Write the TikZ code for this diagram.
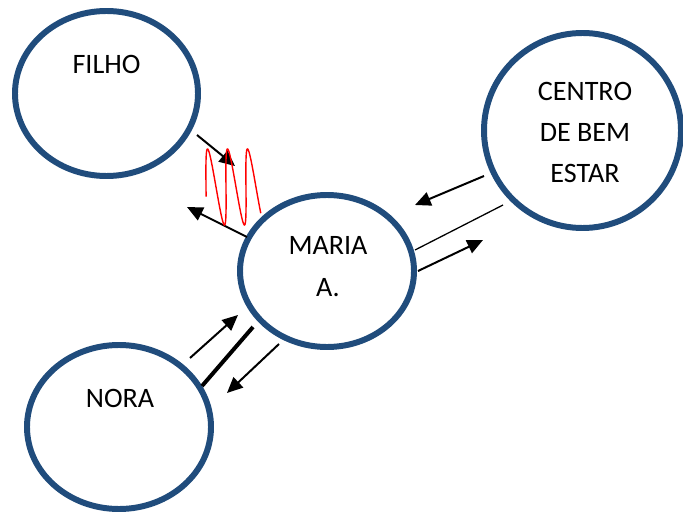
\documentclass[tikz,border=0pt]{standalone}
\usepackage{fontspec}
\setmainfont{Carlito}
\usetikzlibrary{shapes.geometric}
\usetikzlibrary{arrows.meta}
\definecolor{ringblue}{RGB}{32,76,124}

\begin{document}
\begin{tikzpicture}[x=0.03cm,y=-0.03cm,
  person/.style={ellipse,draw=ringblue,line width=5.1pt,inner sep=0pt},
  placetxt/.style={font=\fontsize{24}{35}\selectfont,align=center,anchor=base},
  link/.style={line width=1.7pt,-{Triangle[length=0.47cm,width=0.42cm]}}]
\useasboundingbox (0,0) rectangle (683,512);

% the four people/places
\node[person,minimum width=5.49cm,minimum height=4.95cm] (filho) at (106.5,93.5) {};
\node[person,minimum width=5.91cm,minimum height=5.85cm] (centro) at (582.5,130.5) {};
\node[person,minimum width=5.22cm,minimum height=4.56cm] (maria) at (327,271) {};
\node[person,minimum width=5.52cm,minimum height=4.92cm] (nora) at (119,427) {};

% labels (base = last line)
\node[placetxt] (filhotxt) at (106.5,74) {FILHO};
\node[placetxt] (centrotxt) at (585,183) {CENTRO\\DE BEM\\ESTAR};
\node[placetxt] (mariatxt) at (328,296) {MARIA\\A.};
\node[placetxt] (noratxt) at (120,407) {NORA};

% arrow ends
\coordinate (fm1) at (197,135); \coordinate (fm2) at (235,166);
\coordinate (mf1) at (247,237); \coordinate (mf2) at (187,207);
\coordinate (nm1) at (190,358); \coordinate (nm2) at (238,315);
\coordinate (nb1) at (202,386); \coordinate (nb2) at (253,327);
\coordinate (mn1) at (279,344); \coordinate (mn2) at (227,393);
\coordinate (cm1) at (484,176); \coordinate (cm2) at (415,205);
\coordinate (cb1) at (503,205); \coordinate (cb2) at (415,250);
\coordinate (mc1) at (418,271); \coordinate (mc2) at (483,240);

\draw[link] (fm1) -- (fm2);
\draw[link] (mf1) -- (mf2);
\draw[link] (nm1) -- (nm2);
\draw[line width=3.4pt] (nb1) -- (nb2);
\draw[link] (mn1) -- (mn2);
\draw[link] (cm1) -- (cm2);
\draw[line width=1.1pt] (cb1) -- (cb2);
\draw[link] (mc1) -- (mc2);

% conflict zigzag
\draw[red,line width=1.2pt] plot[domain=-1.83:14.9,samples=160,variable=\t]
  ({211+3.18*\t-3.5*cos(\t r)},{187-38*cos(\t r)});

\end{tikzpicture}
\end{document}
